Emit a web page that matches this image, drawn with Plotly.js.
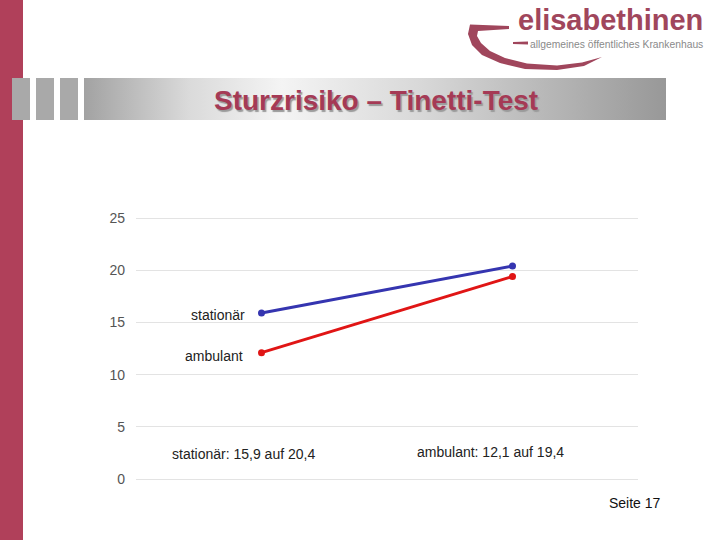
<!DOCTYPE html>
<html>
<head>
<meta charset="utf-8">
<script src="https://cdn.plot.ly/plotly-3.0.1.min.js"></script>
<style>
html,body{margin:0;padding:0;background:#fff;}
#chart{width:720px;height:540px;}
</style>
</head>
<body>
<div id="chart"></div>
<script>
// ---- data ----
var categories = ["vorher", "nachher"];
var seriesNames = ["stationär", "ambulant"];
var stationaer = [15.9, 20.4];
var ambulant = [12.1, 19.4];
var yTicks = [0, 5, 10, 15, 20, 25];
var slideTitle = "Sturzrisiko – Tinetti-Test";
var pageLabel = "Seite 17";
var logoName = "elisabethinen";
var logoSub = "allgemeines öffentliches Krankenhaus";

// ---- layout helpers (pixel -> paper) ----
var L = 136, R = 638, T = 215, B = 482;
var Y0 = 479, Y25 = 218; // pixel rows of 0 and 25
var unit = (Y0 - Y25) / 25;
var yLo = -(B - Y0) / unit, yHi = 25 + (Y25 - T) / unit;
function px(x){ return (x - L) / (R - L); }
function py(y){ return (B - y) / (B - T); }
function pathOf(pts, close){
  var s = pts.map(function(p, i){ return (i ? "L" : "M") + px(p[0]).toFixed(5) + "," + py(p[1]).toFixed(5); }).join(" ");
  return close ? s + " Z" : s;
}
function fmt(v){ return v.toFixed(1).replace(".", ","); }

var fontFam = "Liberation Sans, Arial, sans-serif";
var brand = "#A53A55";
var logoCol = "#A0465C";

var gradSvg = '<svg xmlns="http://www.w3.org/2000/svg" width="582" height="42" preserveAspectRatio="none">' +
  '<defs><linearGradient id="g" x1="0" x2="1" y1="0" y2="0">' +
  '<stop offset="0" stop-color="#a2a2a2"/><stop offset="0.18" stop-color="#dadada"/>' +
  '<stop offset="0.34" stop-color="#f4f4f4"/><stop offset="0.58" stop-color="#d8d8d8"/>' +
  '<stop offset="1" stop-color="#989898"/></linearGradient></defs>' +
  '<rect width="582" height="42" fill="url(#g)"/></svg>';
var gradUri = "data:image/svg+xml;charset=utf-8," + encodeURIComponent(gradSvg);

var traces = [
  {x: categories, y: stationaer, name: seriesNames[0], type: "scatter", mode: "lines+markers",
   line: {color: "#3535B0", width: 3}, marker: {color: "#3535B0", size: 7}, hoverinfo: "skip"},
  {x: categories, y: ambulant, name: seriesNames[1], type: "scatter", mode: "lines+markers",
   line: {color: "#E01515", width: 3}, marker: {color: "#E01515", size: 7}, hoverinfo: "skip"}
];

var swoosh = [[470,24.5],[509,26],[509,29],[478,31],[477,36],[481,43],[490,51],[505,58],[527,63.5],
              [557,65.5],[582,62.5],[602,57],[584,66],[557,70],[525,69],[500,63],[482,55],
              [472,45],[468,34]];

var shapes = [
  {type: "rect", xref: "paper", yref: "paper", x0: px(0), x1: px(23), y0: py(540), y1: py(0),
   fillcolor: "#B0405A", line: {width: 0}, layer: "below"},
  {type: "rect", xref: "paper", yref: "paper", x0: px(12), x1: px(30), y0: py(120), y1: py(78),
   fillcolor: "#a9a9a9", line: {width: 0}, layer: "below"},
  {type: "rect", xref: "paper", yref: "paper", x0: px(36), x1: px(54), y0: py(120), y1: py(78),
   fillcolor: "#a9a9a9", line: {width: 0}, layer: "below"},
  {type: "rect", xref: "paper", yref: "paper", x0: px(60), x1: px(78), y0: py(120), y1: py(78),
   fillcolor: "#a9a9a9", line: {width: 0}, layer: "below"},
  {type: "path", xref: "paper", yref: "paper", layer: "below", line: {width: 0}, fillcolor: logoCol,
   path: pathOf(swoosh, true)},
  {type: "path", xref: "paper", yref: "paper", layer: "below", line: {width: 0}, fillcolor: logoCol,
   path: pathOf([[513,42],[528,41.5],[528,44.5],[513,44]], true)}
];

var annotations = [
  // slide title
  {xref: "paper", yref: "paper", x: px(376), y: py(100), text: "<b>" + slideTitle + "</b>", showarrow: false,
   font: {family: fontFam, size: 28, color: brand, shadow: "1.5px 1.5px 1px #9a9a9a"}, xanchor: "center", yanchor: "middle"},
  // logo
  {xref: "paper", yref: "paper", x: px(704), y: py(20), text: "<b>" + logoName + "</b>", showarrow: false,
   font: {family: fontFam, size: 29, color: logoCol}, xanchor: "right", yanchor: "middle", borderpad: 0},
  {xref: "paper", yref: "paper", x: px(704), y: py(44), text: logoSub, showarrow: false,
   font: {family: fontFam, size: 10.3, color: "#8a8a8a"}, xanchor: "right", yanchor: "middle", borderpad: 0},
  // series labels next to first points
  {x: 0, y: stationaer[0], xref: "x", yref: "y", text: seriesNames[0], showarrow: false,
   xanchor: "right", yanchor: "middle", xshift: -15, yshift: -2, font: {family: fontFam, size: 14, color: "#222"}},
  {x: 0, y: ambulant[0], xref: "x", yref: "y", text: seriesNames[1], showarrow: false,
   xanchor: "right", yanchor: "middle", xshift: -17, yshift: -3, font: {family: fontFam, size: 14, color: "#222"}},
  // summary texts
  {xref: "paper", yref: "paper", x: px(243.5), y: py(454), text: seriesNames[0] + ": " + fmt(stationaer[0]) + " auf " + fmt(stationaer[1]),
   showarrow: false, xanchor: "center", yanchor: "middle", font: {family: fontFam, size: 14, color: "#222"}},
  {xref: "paper", yref: "paper", x: px(490), y: py(452), text: seriesNames[1] + ": " + fmt(ambulant[0]) + " auf " + fmt(ambulant[1]),
   showarrow: false, xanchor: "center", yanchor: "middle", font: {family: fontFam, size: 14, color: "#222"}},
  // page number
  {xref: "paper", yref: "paper", x: px(607), y: py(503), text: pageLabel, showarrow: false,
   xanchor: "left", yanchor: "middle", font: {family: fontFam, size: 14, color: "#111"}}
];

var layout = {
  width: 720, height: 540,
  margin: {l: L, r: 720 - R, t: T, b: 540 - B, pad: 0},
  paper_bgcolor: "#fff", plot_bgcolor: "#fff",
  showlegend: false,
  xaxis: {type: "category", range: [-0.5, 1.5], showticklabels: false, showgrid: false,
          zeroline: false, showline: false, ticks: "", fixedrange: true},
  yaxis: {range: [yLo, yHi], tickvals: yTicks, ticktext: yTicks.map(String), showgrid: true,
          gridcolor: "#e3e3e3", gridwidth: 1, zeroline: false, showline: false, ticks: "",
          ticklabelstandoff: 10, tickfont: {family: fontFam, size: 14, color: "#555"}, fixedrange: true},
  shapes: shapes,
  annotations: annotations,
  images: [{source: gradUri, xref: "paper", yref: "paper", x: px(84), y: py(78),
            sizex: px(666) - px(84), sizey: py(78) - py(120), sizing: "stretch",
            xanchor: "left", yanchor: "top", layer: "below"}]
};

Plotly.newPlot("chart", traces, layout, {displayModeBar: false, staticPlot: true});
</script>
</body>
</html>
